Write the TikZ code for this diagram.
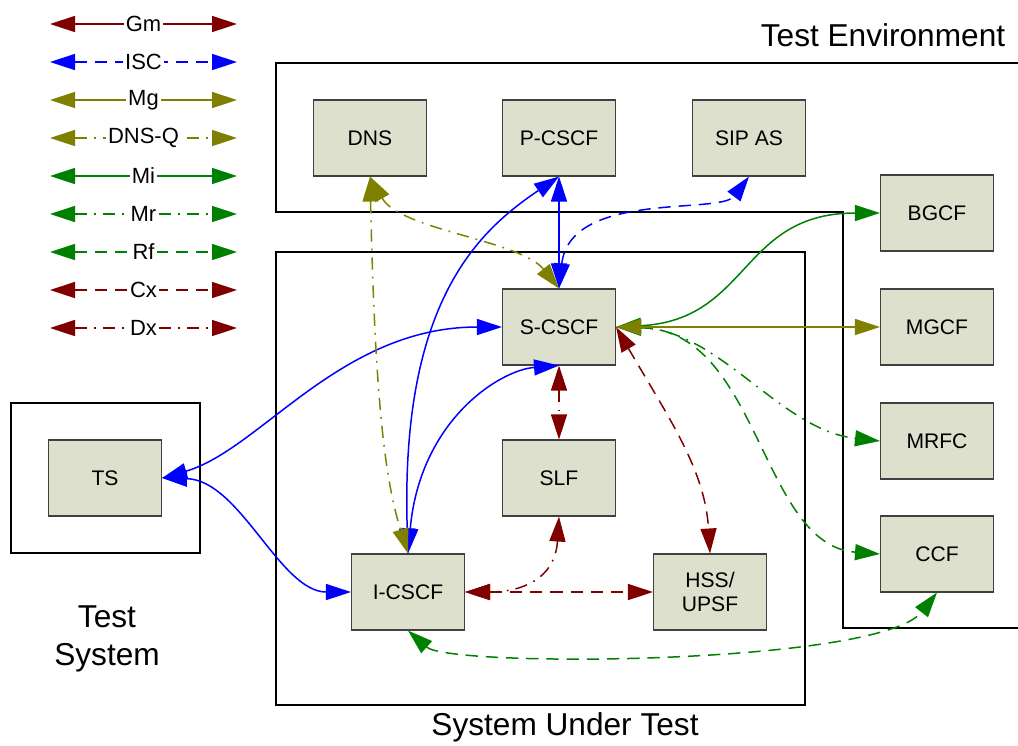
\documentclass[tikz,border=0pt]{standalone}
\usepackage{fontspec}
\setmainfont{Liberation Sans}
\usetikzlibrary{arrows.meta}
\definecolor{boxfill}{RGB}{221,224,204}
\definecolor{dred}{RGB}{128,0,0}
\definecolor{olivec}{RGB}{128,128,0}
\definecolor{greenc}{RGB}{0,128,0}
\tikzset{
  fe/.style={draw=black!75, fill=boxfill, line width=0.6pt, minimum width=22.6mm,
    minimum height=15.2mm, align=center, inner sep=0pt, font=\fontsize{12}{13.5}\selectfont},
  areabox/.style={draw, line width=1.1pt},
  link/.style={line width=0.85pt, <->, >={Triangle[length=5mm,width=3.2mm]}},
  solidline/.style={link},
  dashline/.style={link, dash pattern=on 7pt off 4.5pt},
  dotline/.style={link, dash pattern=on 7pt off 4pt on 1pt off 4pt},
  gmline/.style={solidline, dred},
  iscline/.style={dashline, blue},
  mgline/.style={solidline, olivec},
  dnsqline/.style={dotline, olivec},
  miline/.style={solidline, greenc},
  mrline/.style={dotline, greenc},
  rfline/.style={dashline, greenc},
  cxline/.style={dashline, dred},
  dxline/.style={dotline, dred},
  tsline/.style={solidline, blue},
  title/.style={font=\fontsize{18}{21.5}\selectfont, align=center}
}
\begin{document}
\begin{tikzpicture}[x=0.2mm, y=-0.2mm]
  \useasboundingbox (0,0) rectangle (1018,745);
  \draw[areabox] (1030,63) -- (276,63) -- (276,212) -- (843,212) -- (843,628) -- (1030,628);
  \draw[areabox] (276,252) rectangle (805,705);
  \draw[areabox] (11,403) rectangle (200,553);
  \node[title] (envlabel) at (883,35) {Test Environment};
  \node[title] (sutlabel) at (565,727) {System Under Test};
  \node[title] (tslabel) at (107,639) {Test\\System};

  \foreach \name/\sty [count=\i] in {Gm/gmline, ISC/iscline, Mg/mgline, DNS-Q/dnsqline,
      Mi/miline, Mr/mrline, Rf/rfline, Cx/cxline, Dx/dxline} {
    \coordinate (lgA\i) at (50,{24+38*(\i-1)});
    \coordinate (lgB\i) at (237,{24+38*(\i-1)});
    \draw[\sty] (lgA\i) -- (lgB\i) node[midway, fill=white, text=black, inner sep=1.2pt,
      font=\fontsize{12.5}{13}\selectfont] {\name};
  }

  \node[fe] (dns) at (370,138) {DNS};
  \node[fe] (pcscf) at (559,138) {P-CSCF};
  \node[fe] (sipas) at (749,138) {SIP AS};
  \node[fe] (scscf) at (559,327) {S-CSCF};
  \node[fe] (slf) at (559,478) {SLF};
  \node[fe] (icscf) at (408,592) {I-CSCF};
  \node[fe] (hss) at (710,592) {HSS/\\UPSF};
  \node[fe] (bgcf) at (937,213) {BGCF};
  \node[fe] (mgcf) at (937,327) {MGCF};
  \node[fe] (mrfc) at (937,441) {MRFC};
  \node[fe] (ccf) at (937,554) {CCF};
  \node[fe] (ts) at (105,478) {TS};

  \draw[tsline] (ts.east) .. controls (260,450) and (340,327) .. (scscf.west);
  \draw[tsline] (ts.east) .. controls (240,480) and (280,592) .. (icscf.west);
  \draw[tsline] (icscf.north) .. controls (400,300) and (480,230) .. (pcscf.south);
  \draw[tsline] (icscf.north) .. controls (420,420) and (500,370) .. (scscf.south);
  \draw[tsline] (pcscf.south) -- (scscf.north);
  \draw[iscline] (scscf.north) .. controls (570,190) and (720,215) .. (sipas.south);
  \draw[dnsqline] (dns.south) .. controls (400,230) and (520,240) .. (scscf.north);
  \draw[dnsqline] (dns.south) .. controls (375,400) and (385,480) .. (icscf.north);
  \draw[dxline] (scscf.south) -- (slf.north);
  \draw[dxline] (slf.south) .. controls (555,580) and (520,592) .. (icscf.east);
  \draw[cxline] (icscf.east) -- (hss.west);
  \draw[cxline] (scscf.east) .. controls (670,420) and (705,470) .. (hss.north);
  \draw[rfline] (icscf.south) .. controls (450,668) and (880,665) .. (ccf.south);
  \draw[rfline] (scscf.east) .. controls (760,330) and (760,545) .. (ccf.west);
  \draw[mrline] (scscf.east) .. controls (720,330) and (780,430) .. (mrfc.west);
  \draw[miline] (scscf.east) .. controls (750,320) and (740,213) .. (bgcf.west);
  \draw[mgline] (scscf.east) -- (mgcf.west);
\end{tikzpicture}
\end{document}
